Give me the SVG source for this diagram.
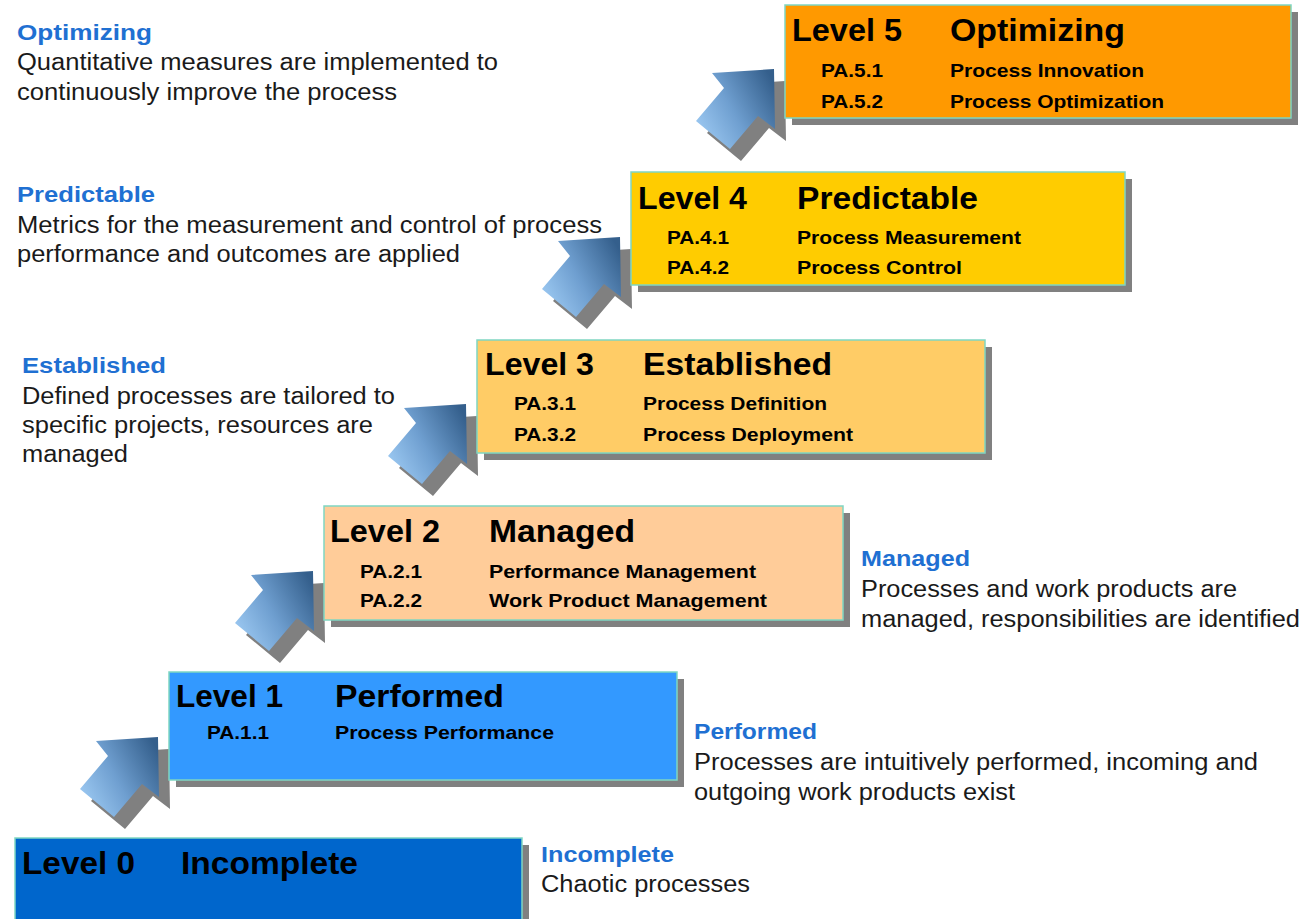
<svg xmlns="http://www.w3.org/2000/svg" width="1307" height="919" viewBox="0 0 1307 919">
  <defs>
    <linearGradient id="arrowGrad" x1="0" y1="0.75" x2="1" y2="0.2">
      <stop offset="0" stop-color="#9cc9f2"/>
      <stop offset="0.45" stop-color="#6f9fd0"/>
      <stop offset="1" stop-color="#345f8c"/>
    </linearGradient>
    <polygon id="arrowShape" points="0,0 1,60 -16,47 -44,80 -78,52 -50,19 -62,4"/>
  </defs>
  <style>
    .bg { fill: #ffffff; }
    .shadow { fill: #808080; }
    .box { stroke: #7fd6c2; stroke-width: 1.5; }
    .title { font-family: "Liberation Sans", Arial, sans-serif; font-weight: bold; font-size: 32px; fill: #000000; }
    .pa { font-family: "Liberation Sans", Arial, sans-serif; font-weight: bold; font-size: 19px; fill: #000000; }
    .head { font-family: "Liberation Sans", Arial, sans-serif; font-weight: bold; font-size: 22px; fill: #1f70d2; }
    .desc { font-family: "Liberation Sans", Arial, sans-serif; font-size: 23px; fill: #1a1a1a; }
    .ashadow { fill: #808080; }
    .arrow { fill: url(#arrowGrad); }
  </style>
  <rect class="bg" x="0" y="0" width="1307" height="919"/>

  <!-- connectors: step arrows -->
  <g id="connectors">
    <g id="arrow-0-1">
      <use href="#arrowShape" class="ashadow" transform="translate(169,749)"/>
      <use href="#arrowShape" class="arrow" transform="translate(158,737)"/>
    </g>
    <g id="arrow-1-2">
      <use href="#arrowShape" class="ashadow" transform="translate(324,583)"/>
      <use href="#arrowShape" class="arrow" transform="translate(313,571)"/>
    </g>
    <g id="arrow-2-3">
      <use href="#arrowShape" class="ashadow" transform="translate(477,416)"/>
      <use href="#arrowShape" class="arrow" transform="translate(466,404)"/>
    </g>
    <g id="arrow-3-4">
      <use href="#arrowShape" class="ashadow" transform="translate(631,249)"/>
      <use href="#arrowShape" class="arrow" transform="translate(620,237)"/>
    </g>
    <g id="arrow-4-5">
      <use href="#arrowShape" class="ashadow" transform="translate(785,81)"/>
      <use href="#arrowShape" class="arrow" transform="translate(774,69)"/>
    </g>
  </g>

  <!-- Level 5 -->
  <g id="level5">
    <rect class="shadow" x="792" y="12" width="506" height="113"/>
    <rect class="box" x="785" y="5" width="506" height="113" fill="#ff9900"/>
    <text class="title" x="792" y="41" textLength="110" lengthAdjust="spacingAndGlyphs">Level 5</text>
    <text class="title" x="950" y="41" textLength="175" lengthAdjust="spacingAndGlyphs">Optimizing</text>
    <text class="pa" x="821" y="77" textLength="62" lengthAdjust="spacingAndGlyphs">PA.5.1</text>
    <text class="pa" x="950" y="77" textLength="194" lengthAdjust="spacingAndGlyphs">Process Innovation</text>
    <text class="pa" x="821" y="108" textLength="62" lengthAdjust="spacingAndGlyphs">PA.5.2</text>
    <text class="pa" x="950" y="108" textLength="214" lengthAdjust="spacingAndGlyphs">Process Optimization</text>
  </g>

  <!-- Level 4 -->
  <g id="level4">
    <rect class="shadow" x="638" y="179" width="494" height="113"/>
    <rect class="box" x="631" y="172" width="494" height="113" fill="#ffcc00"/>
    <text class="title" x="638" y="209" textLength="109" lengthAdjust="spacingAndGlyphs">Level 4</text>
    <text class="title" x="797" y="209" textLength="181" lengthAdjust="spacingAndGlyphs">Predictable</text>
    <text class="pa" x="667" y="244" textLength="62" lengthAdjust="spacingAndGlyphs">PA.4.1</text>
    <text class="pa" x="797" y="244" textLength="224" lengthAdjust="spacingAndGlyphs">Process Measurement</text>
    <text class="pa" x="667" y="274" textLength="62" lengthAdjust="spacingAndGlyphs">PA.4.2</text>
    <text class="pa" x="797" y="274" textLength="165" lengthAdjust="spacingAndGlyphs">Process Control</text>
  </g>

  <!-- Level 3 -->
  <g id="level3">
    <rect class="shadow" x="484" y="347" width="508" height="113"/>
    <rect class="box" x="477" y="340" width="508" height="113" fill="#ffcc66"/>
    <text class="title" x="485" y="375" textLength="109" lengthAdjust="spacingAndGlyphs">Level 3</text>
    <text class="title" x="643" y="375" textLength="189" lengthAdjust="spacingAndGlyphs">Established</text>
    <text class="pa" x="514" y="410" textLength="62" lengthAdjust="spacingAndGlyphs">PA.3.1</text>
    <text class="pa" x="643" y="410" textLength="184" lengthAdjust="spacingAndGlyphs">Process Definition</text>
    <text class="pa" x="514" y="441" textLength="62" lengthAdjust="spacingAndGlyphs">PA.3.2</text>
    <text class="pa" x="643" y="441" textLength="210" lengthAdjust="spacingAndGlyphs">Process Deployment</text>
  </g>

  <!-- Level 2 -->
  <g id="level2">
    <rect class="shadow" x="331" y="513" width="519" height="114"/>
    <rect class="box" x="324" y="506" width="519" height="114" fill="#ffcc99"/>
    <text class="title" x="330" y="542" textLength="110" lengthAdjust="spacingAndGlyphs">Level 2</text>
    <text class="title" x="489" y="542" textLength="146" lengthAdjust="spacingAndGlyphs">Managed</text>
    <text class="pa" x="360" y="578" textLength="62" lengthAdjust="spacingAndGlyphs">PA.2.1</text>
    <text class="pa" x="489" y="578" textLength="267" lengthAdjust="spacingAndGlyphs">Performance Management</text>
    <text class="pa" x="360" y="607" textLength="62" lengthAdjust="spacingAndGlyphs">PA.2.2</text>
    <text class="pa" x="489" y="607" textLength="278" lengthAdjust="spacingAndGlyphs">Work Product Management</text>
  </g>

  <!-- Level 1 -->
  <g id="level1">
    <rect class="shadow" x="176" y="679" width="508" height="108"/>
    <rect class="box" x="169" y="672" width="508" height="108" fill="#3399ff"/>
    <text class="title" x="176" y="707" textLength="107" lengthAdjust="spacingAndGlyphs">Level 1</text>
    <text class="title" x="335" y="707" textLength="169" lengthAdjust="spacingAndGlyphs">Performed</text>
    <text class="pa" x="207" y="739" textLength="62" lengthAdjust="spacingAndGlyphs">PA.1.1</text>
    <text class="pa" x="335" y="739" textLength="219" lengthAdjust="spacingAndGlyphs">Process Performance</text>
  </g>

  <!-- Level 0 -->
  <g id="level0">
    <rect class="shadow" x="22" y="845" width="507" height="80"/>
    <rect class="box" x="15" y="838" width="507" height="90" fill="#0066cc"/>
    <text class="title" x="22" y="874" textLength="113" lengthAdjust="spacingAndGlyphs">Level 0</text>
    <text class="title" x="181" y="874" textLength="177" lengthAdjust="spacingAndGlyphs">Incomplete</text>
  </g>

  <!-- descriptions -->
  <g id="desc-optimizing">
    <text class="head" x="17" y="40" textLength="135" lengthAdjust="spacingAndGlyphs">Optimizing</text>
    <text class="desc" x="17" y="70" textLength="481" lengthAdjust="spacingAndGlyphs">Quantitative measures are implemented to</text>
    <text class="desc" x="17" y="100" textLength="380" lengthAdjust="spacingAndGlyphs">continuously improve the process</text>
  </g>
  <g id="desc-predictable">
    <text class="head" x="17" y="202" textLength="138" lengthAdjust="spacingAndGlyphs">Predictable</text>
    <text class="desc" x="17" y="233" textLength="585" lengthAdjust="spacingAndGlyphs">Metrics for the measurement and control of process</text>
    <text class="desc" x="17" y="262" textLength="443" lengthAdjust="spacingAndGlyphs">performance and outcomes are applied</text>
  </g>
  <g id="desc-established">
    <text class="head" x="22" y="373" textLength="144" lengthAdjust="spacingAndGlyphs">Established</text>
    <text class="desc" x="22" y="404" textLength="373" lengthAdjust="spacingAndGlyphs">Defined processes are tailored to</text>
    <text class="desc" x="22" y="433" textLength="351" lengthAdjust="spacingAndGlyphs">specific projects, resources are</text>
    <text class="desc" x="22" y="462" textLength="106" lengthAdjust="spacingAndGlyphs">managed</text>
  </g>
  <g id="desc-managed">
    <text class="head" x="861" y="566" textLength="109" lengthAdjust="spacingAndGlyphs">Managed</text>
    <text class="desc" x="861" y="597" textLength="376" lengthAdjust="spacingAndGlyphs">Processes and work products are</text>
    <text class="desc" x="861" y="627" textLength="439" lengthAdjust="spacingAndGlyphs">managed, responsibilities are identified</text>
  </g>
  <g id="desc-performed">
    <text class="head" x="694" y="739" textLength="123" lengthAdjust="spacingAndGlyphs">Performed</text>
    <text class="desc" x="694" y="770" textLength="564" lengthAdjust="spacingAndGlyphs">Processes are intuitively performed, incoming and</text>
    <text class="desc" x="694" y="800" textLength="321" lengthAdjust="spacingAndGlyphs">outgoing work products exist</text>
  </g>
  <g id="desc-incomplete">
    <text class="head" x="541" y="862" textLength="133" lengthAdjust="spacingAndGlyphs">Incomplete</text>
    <text class="desc" x="541" y="892" textLength="209" lengthAdjust="spacingAndGlyphs">Chaotic processes</text>
  </g>
</svg>
